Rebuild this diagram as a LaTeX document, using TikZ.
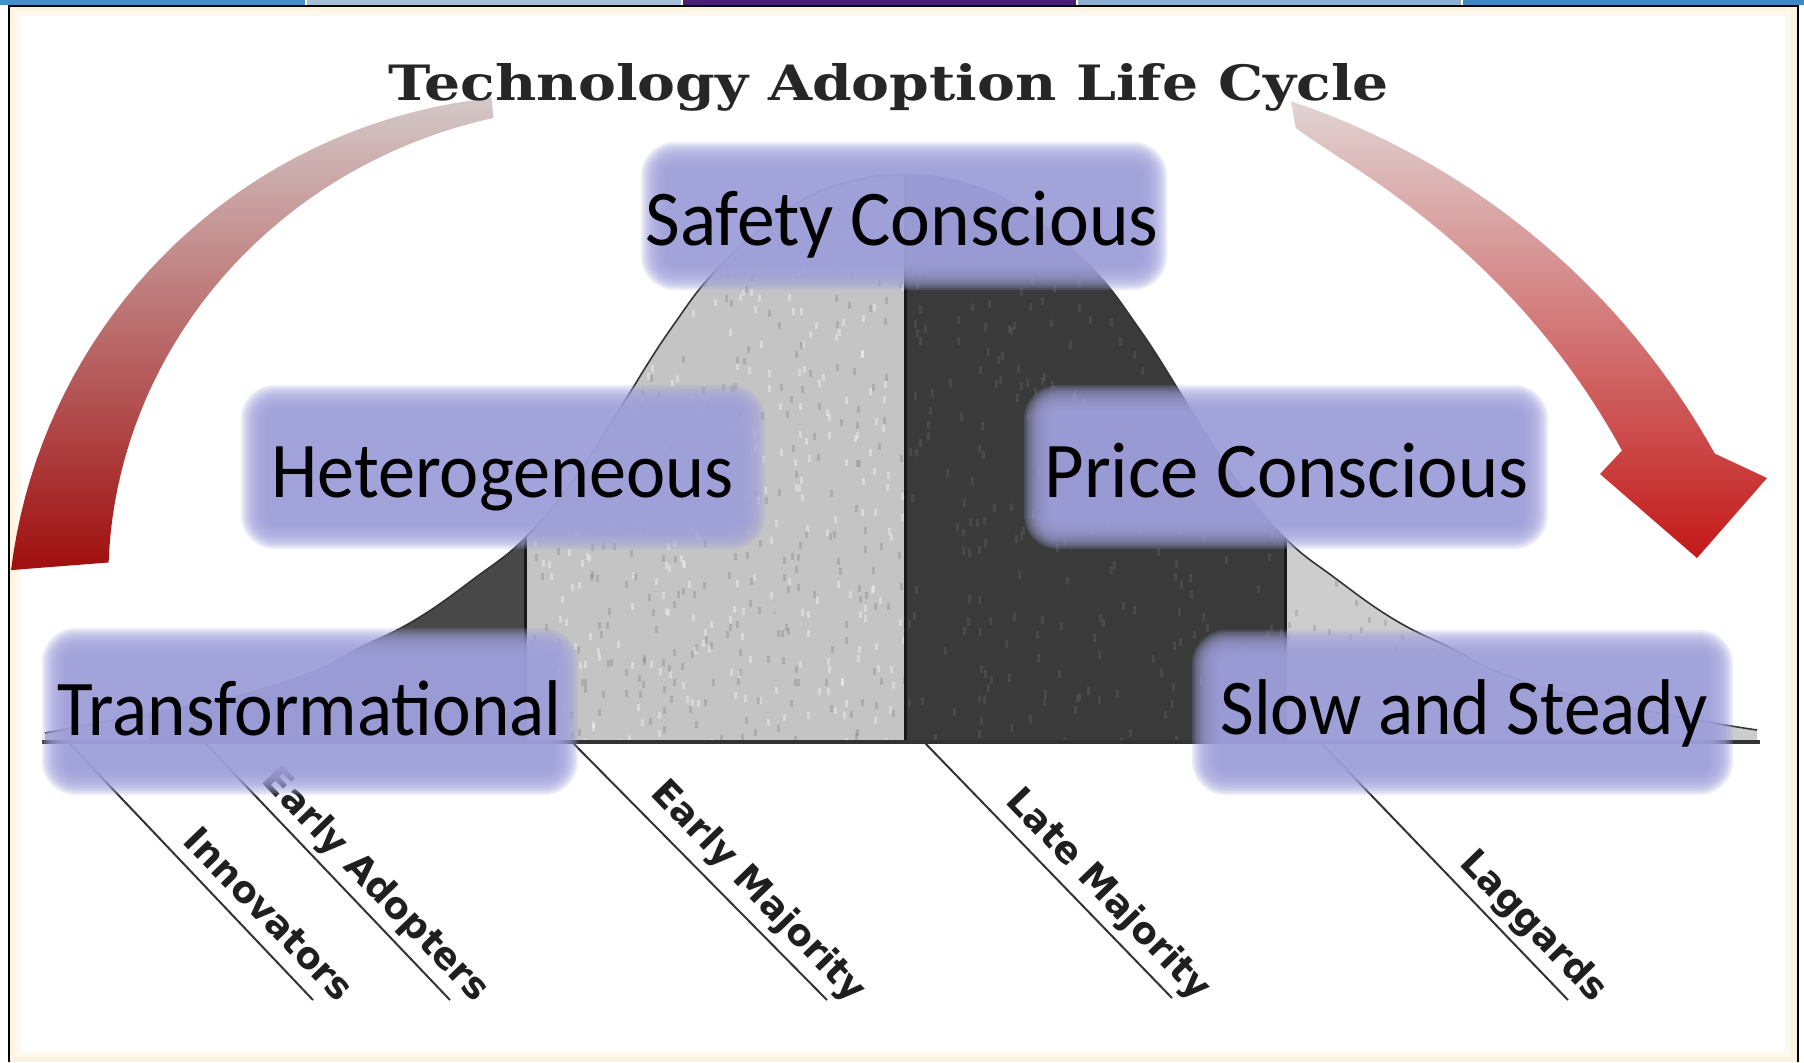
\documentclass[tikz,border=0pt]{standalone}
\usepackage{fontspec}
\usepackage{graphicx}
\newfontfamily\boxfont{Carlito}
\newfontfamily\labfont{DejaVu Sans}
\newfontfamily\titlefont{DejaVu Serif}
\usetikzlibrary{calc}
\definecolor{boxcol}{RGB}{160,160,220}
\definecolor{cream}{RGB}{252,244,224}
\definecolor{barA}{RGB}{72,140,200}
\definecolor{barB}{RGB}{165,190,215}
\definecolor{barC}{RGB}{75,30,115}
\definecolor{barD}{RGB}{140,175,210}
\definecolor{barE}{RGB}{62,135,195}
\definecolor{lt}{RGB}{212,200,200}
\definecolor{lm}{RGB}{152,84,84}
\definecolor{lb}{RGB}{160,14,14}
\definecolor{rt}{RGB}{225,212,212}
\definecolor{rm}{RGB}{192,100,100}
\definecolor{rb}{RGB}{196,24,24}
\definecolor{innocol}{RGB}{190,190,190}
\definecolor{eacol}{RGB}{72,72,72}
\definecolor{emcol}{RGB}{196,196,196}
\definecolor{lmcol}{RGB}{58,58,58}
\definecolor{lagcol}{RGB}{205,205,205}
\newcommand\blurbox[4]{%
  \foreach \o in {8,6,4,2,0,-2,-4,-6,-8,-10,-12,-14,-16,-18}{%
    \fill[boxcol, fill opacity=0.2, rounded corners={(26+\o)*0.5pt}] ({#1-\o},{#2-\o}) rectangle ({#3+\o},{#4+\o});
  }}
\newcommand\bellpath{plot[smooth, tension=0.7] coordinates {(45,733) (113,720) (232,697) (312,672) (355,650) (415,620) (475,578) (525,538) (575,478) (619,410) (670,330) (721,265) (790,208) (845,183) (905,175) (965,183) (1020,208) (1089,265) (1140,330) (1191,410) (1235,478) (1285,538) (1335,578) (1395,620) (1455,650) (1498,672) (1578,697) (1697,720) (1757,730)}}
\begin{document}
\begin{tikzpicture}[x=0.5pt,y=-0.5pt,
  boxtext/.style={anchor=base west, inner sep=0pt, font={\boxfont\fontsize{39.5pt}{40pt}\selectfont}},
  lab/.style={anchor=base east, inner sep=0pt, rotate=-46, text=black!88, font={\labfont\bfseries\fontsize{18.5pt}{20pt}\selectfont}},
  labline/.style={draw=black!80, line width=1pt},
  divline/.style={draw=black!90, line width=1.5pt},
  curveline/.style={draw=black!80, line width=0.8pt},
  baseln/.style={draw=black!80, line width=2pt},
]
\useasboundingbox (0,0) rectangle (1804,1062);
\fill[white] (0,0) rectangle (1804,1062);
% top bar
\fill[barA] (0,0) rectangle (305,5);
\fill[barB] (307,0) rectangle (681,5);
\fill[barC] (683,0) rectangle (1076,5);
\fill[barD] (1078,0) rectangle (1461,5);
\fill[barE] (1463,0) rectangle (1804,5);
% cream inner band
\fill[cream] (9,6) rectangle (1797,1062);
\fill[cream!50!white] (15,11) rectangle (1791,1057);
\fill[white] (21,16) rectangle (1785,1052);
\draw[black, line width=1pt] (8.5,1062) -- (8.5,5.5) -- (1797.5,5.5) -- (1797.5,1062);
% red arcs
\shade[top color=lt, middle color=lm, bottom color=lb]
  plot[domain=96:173, samples=40] ({548+541*cos(\x)},{636-541*sin(\x)})
  -- plot[domain=170.5:96, samples=40] ({548+(541-20-78*(\x-96)/77)*cos(\x)},{636-(541-20-78*(\x-96)/77)*sin(\x)}) -- cycle;
\shade[top color=rt, middle color=rm, bottom color=rb]
  plot[domain=71.5:29, samples=40] ({1050+760*cos(\x)},{822-760*sin(\x)})
  -- (1767,478) -- (1697,558) -- (1600,474)
  -- plot[domain=33:70.5, samples=40] ({1050+(760-17-61*((71.5-\x)/38.5)^0.6)*cos(\x)},{822-(760-17-61*((71.5-\x)/38.5)^0.6)*sin(\x)}) -- cycle;
% title
\node[anchor=base, inner sep=0pt, text=black!85] (title) at (889,100)
  {\resizebox{500pt}{18.5pt}{\titlefont\bfseries Technology Adoption Life Cycle}};
% bell curve
\begin{scope}
  \clip \bellpath -- (1757,742) -- (45,742) -- cycle;
  \fill[innocol] (40,150) rectangle (150,745);
  \fill[eacol] (150,150) rectangle (525,745);
  \fill[emcol] (525,150) rectangle (905,745);
  \fill[lmcol] (905,150) rectangle (1285,745);
  \fill[lagcol] (1285,150) rectangle (1765,745);
  \pgfmathsetseed{7}
  \foreach \i in {1,...,350}{\fill[white, opacity=0.35] ({525+380*rnd},{170+570*rnd}) rectangle +(3,7);}
  \foreach \i in {1,...,350}{\fill[black, opacity=0.12] ({525+380*rnd},{170+570*rnd}) rectangle +(3,7);}
  \foreach \i in {1,...,300}{\fill[white, opacity=0.08] ({905+380*rnd},{170+570*rnd}) rectangle +(3,8);}
  \foreach \i in {1,...,150}{\fill[black, opacity=0.12] ({1285+400*rnd},{540+200*rnd}) rectangle +(3,6);}
  \draw[divline] (150,150) -- (150,742);
  \draw[divline] (525,150) -- (525,742);
  \draw[divline] (905,150) -- (905,742);
  \draw[divline] (1285,150) -- (1285,742);
\end{scope}
\draw[curveline] \bellpath;
\draw[baseln] (42,742) -- (1760,742);
% category lines and labels
\coordinate (innS) at (68,742);   \coordinate (innE) at (313,1000);
\coordinate (eaS) at (204,742);   \coordinate (eaE) at (450,1000);
\coordinate (emS) at (572,742);   \coordinate (emE) at (827,1000);
\coordinate (lmS) at (924,742);   \coordinate (lmE) at (1172,998);
\coordinate (lagS) at (1320,742); \coordinate (lagE) at (1568,1000);
\draw[labline] (innS) -- (innE);
\draw[labline] (eaS) -- (eaE);
\draw[labline] (emS) -- (emE);
\draw[labline] (lmS) -- (lmE);
\draw[labline] (lagS) -- (lagE);
\node[lab] (inn) at (338,1004) {Innovators};
\node[lab] (ea) at (475,1004) {Early Adopters};
\node[lab] (em) at (852,1004) {Early Majority};
\node[lab] (lm) at (1197,1002) {Late Majority};
\node[lab] (lag) at (1593,1004) {Laggards};
% lavender boxes
\blurbox{649}{150}{1159}{282}
\blurbox{249}{393}{757}{541}
\blurbox{1032}{393}{1540}{541}
\blurbox{50}{636}{570}{787}
\blurbox{1200}{638}{1725}{787}
\node[boxtext] (sc) at (645,245) {\resizebox{256.5pt}{\height}{Safety Conscious}};
\node[boxtext] (het) at (271,497) {\resizebox{231pt}{\height}{Heterogeneous}};
\node[boxtext] (pc) at (1044,497) {\resizebox{242pt}{\height}{Price Conscious}};
\node[boxtext] (tr) at (57,735) {\resizebox{252pt}{\height}{Transformational}};
\node[boxtext] (ss) at (1220,734) {\resizebox{243.5pt}{\height}{Slow and Steady}};
\end{tikzpicture}
\end{document}
